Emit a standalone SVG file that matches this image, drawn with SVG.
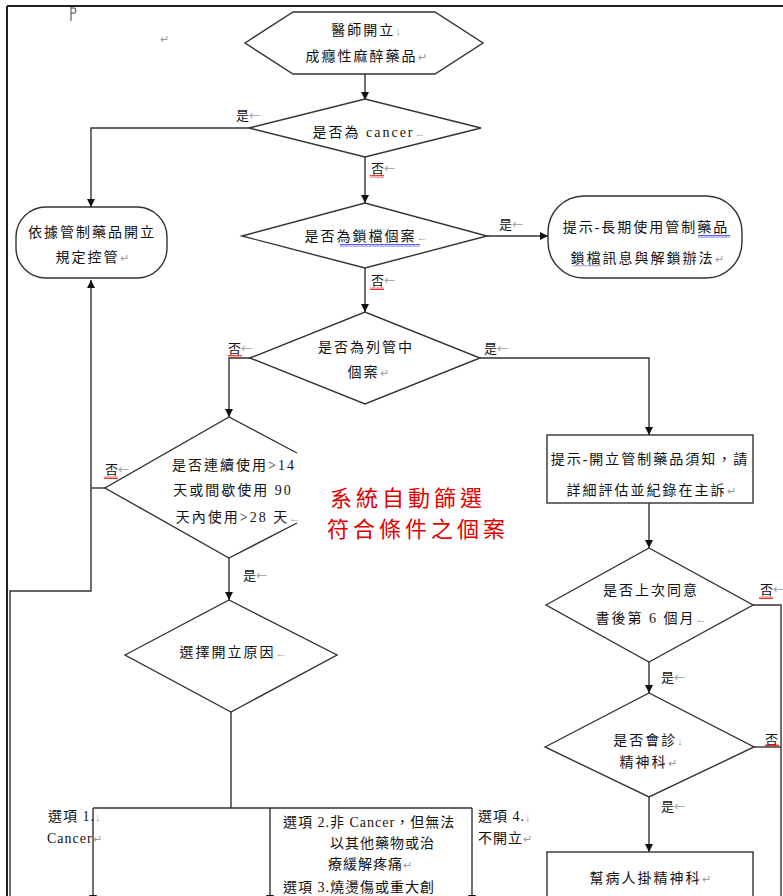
<svg xmlns="http://www.w3.org/2000/svg" width="783" height="896" viewBox="0 0 783 896">
<style>
.sh{fill:#fff;stroke:#333;stroke-width:1.4}
.ln{fill:none;stroke:#333;stroke-width:1.4}
.t{font-family:"Liberation Serif","Noto Sans CJK TC",serif;font-size:14px;fill:#111;letter-spacing:2px}
.c{text-anchor:middle}
.o{font-family:"Liberation Serif","Noto Sans CJK TC",serif;font-size:14px;fill:#111;letter-spacing:1px}
.lb{font-family:"Noto Sans CJK TC",sans-serif;font-size:13px;fill:#111}
.pm{fill:#999;font-size:11px;letter-spacing:0}
.red{font-family:"Noto Sans CJK TC",sans-serif;font-size:22px;fill:#e00000;letter-spacing:4px}
</style>
<defs>
<marker id="ah" viewBox="0 0 10 10" refX="10" refY="5" markerWidth="8" markerHeight="8" markerUnits="userSpaceOnUse" orient="auto">
<path d="M0,0 L10,5 L0,10 z" fill="#111"/>
</marker>
<pattern id="wr" width="4" height="3" patternUnits="userSpaceOnUse"><path d="M0,2.5 L1,0.5 L2,2.5 L3,0.5 L4,2.5" fill="none" stroke="#e00" stroke-width="0.8"/></pattern>
<pattern id="wb" width="4" height="3" patternUnits="userSpaceOnUse"><path d="M0,2.5 L1,0.5 L2,2.5 L3,0.5 L4,2.5" fill="none" stroke="#33d" stroke-width="0.8"/></pattern>
</defs>
<rect width="783" height="896" fill="#fff"/>
<g id="frame">
<path d="M7,6 H783 M7,6 V896" fill="none" stroke="#222" stroke-width="2"/>
<path d="M71,7 V21 M71,8 H75 L76,11 L75,13 H71" fill="none" stroke="#444" stroke-width="1"/>
<text x="160" y="43" class="t pm">↵</text>
</g>
<g id="connectors">
<path class="ln" d="M365,74 V100" marker-end="url(#ah)"/>
<path class="ln" d="M249,128 H91 V207" marker-end="url(#ah)"/>
<path class="ln" d="M365,157 V203" marker-end="url(#ah)"/>
<path class="ln" d="M487,236 H548" marker-end="url(#ah)"/>
<path class="ln" d="M365,268 V312" marker-end="url(#ah)"/>
<path class="ln" d="M250,358 H229 V417" marker-end="url(#ah)"/>
<path class="ln" d="M480,358 H649 V435" marker-end="url(#ah)"/>
<path class="ln" d="M105,488 H91"/>
<path class="ln" d="M10,896 V591 H91 V280" marker-end="url(#ah)"/>
<path class="ln" d="M229,558 V600" marker-end="url(#ah)"/>
<path class="ln" d="M231,712 V808 M93,808 H472"/>
<path class="ln" d="M93,808 V903" marker-end="url(#ah)"/>
<path class="ln" d="M270,808 V903" marker-end="url(#ah)"/>
<path class="ln" d="M472,808 V903" marker-end="url(#ah)"/>
<path class="ln" d="M649,503 V548" marker-end="url(#ah)"/>
<path class="ln" d="M753,605 H781 V896"/>
<path class="ln" d="M649,662 V693" marker-end="url(#ah)"/>
<path class="ln" d="M754,747 H781"/>
<path class="ln" d="M649,797 V852" marker-end="url(#ah)"/>
<g id="labels">
<text x="236" y="120" class="lb">是<tspan class="pm">←</tspan></text>
<text x="371" y="173" class="lb">否<tspan class="pm">←</tspan></text>
<rect x="370" y="175" width="14" height="3" fill="url(#wr)"/>
<text x="499" y="229" class="lb">是<tspan class="pm">←</tspan></text>
<text x="371" y="285" class="lb">否<tspan class="pm">←</tspan></text>
<rect x="370" y="287" width="14" height="3" fill="url(#wr)"/>
<text x="228" y="353" class="lb">否<tspan class="pm">←</tspan></text>
<rect x="228" y="355" width="14" height="3" fill="url(#wr)"/>
<text x="484" y="353" class="lb">是<tspan class="pm">←</tspan></text>
<text x="105" y="474" class="lb">否<tspan class="pm">←</tspan></text>
<rect x="104" y="476" width="14" height="3" fill="url(#wr)"/>
<text x="243" y="580" class="lb">是<tspan class="pm">←</tspan></text>
<text x="760" y="594" class="lb">否<tspan class="pm">←</tspan></text>
<rect x="759" y="596" width="14" height="3" fill="url(#wr)"/>
<text x="661" y="682" class="lb">是<tspan class="pm">←</tspan></text>
<text x="765" y="744" class="lb">否</text>
<rect x="765" y="744" width="14" height="3" fill="url(#wr)"/>
<text x="661" y="811" class="lb">是<tspan class="pm">←</tspan></text>
</g>
</g>
<g id="n-start">
<polygon class="sh" points="245,43 293,12 435,12 483,43 435,74 293,74"/>
<text x="366" y="35" class="t c">醫師開立<tspan class="pm">↓</tspan></text>
<text x="366" y="61" class="t c">成癮性麻醉藥品<tspan class="pm">↵</tspan></text>
</g>
<g id="n-cancer">
<polygon class="sh" points="249,128 365,99 481,128 365,157"/>
<text x="369" y="137" class="t c">是否為 cancer<tspan class="pm">←</tspan></text>
</g>
<g id="n-rule">
<rect class="sh" x="16" y="207" width="151" height="71" rx="30" ry="30"/>
<text x="92" y="237" class="t c">依據管制藥品開立</text>
<text x="92" y="262" class="t c">規定控管<tspan class="pm">↵</tspan></text>
</g>
<g id="n-lock">
<polygon class="sh" points="242,236 365,203 487,236 365,268"/>
<text x="366" y="241" class="t c">是否為鎖檔個案<tspan class="pm">←</tspan></text>
<rect x="340" y="244" width="80" height="3" fill="url(#wb)"/>
</g>
<g id="n-lockmsg">
<rect class="sh" x="548" y="196" width="194" height="82" rx="36" ry="36"/>
<text x="646" y="232" class="t c">提示-長期使用管制藥品</text>
<rect x="698" y="235" width="32" height="3" fill="url(#wb)"/>
<text x="647" y="263" class="t c">鎖檔訊息與解鎖辦法<tspan class="pm">↵</tspan></text>
<rect x="573" y="265" width="28" height="2" fill="url(#wb)" opacity="0.5"/>
</g>
<g id="n-listed">
<polygon class="sh" points="250,358 365,312 480,358 365,404"/>
<text x="366" y="352" class="t c">是否為列管中</text>
<text x="368" y="377" class="t c">個案<tspan class="pm">↵</tspan></text>
</g>
<g id="n-days">
<polyline class="ln" points="297,453 229,417 105,488 229,558 297,523"/>
<text x="234" y="470" class="t c">是否連續使用&gt;14</text>
<text x="233" y="495" class="t c">天或間歇使用 90</text>
<text x="238" y="522" class="t c">天內使用&gt;28 天<tspan class="pm">←</tspan></text>
</g>
<g id="n-note">
<text x="330" y="506" class="red">系統自動篩選</text>
<text x="327" y="537" class="red">符合條件之個案</text>
</g>
<g id="n-reason">
<polygon class="sh" points="125,655 229,600 337,655 231,712"/>
<text x="233" y="657" class="t c">選擇開立原因<tspan class="pm">←</tspan></text>
</g>
<g id="n-options">
<text x="48" y="821" class="o">選項 1.<tspan class="pm">↓</tspan></text>
<text x="47" y="843" class="o">Cancer<tspan class="pm">↵</tspan></text>
<text x="283" y="827" class="o">選項 2.非 Cancer，但無法</text>
<text x="330" y="848" class="o">以其他藥物或治</text>
<text x="328" y="869" class="o">療緩解疼痛<tspan class="pm">↵</tspan></text>
<text x="283" y="892" class="o">選項 3.燒燙傷或重大創</text>
<text x="478" y="821" class="o">選項 4.<tspan class="pm">↓</tspan></text>
<text x="478" y="843" class="o">不開立<tspan class="pm">↵</tspan></text>
</g>
<g id="n-notice">
<rect class="sh" x="547" y="435" width="206" height="68"/>
<text x="650" y="464" class="t c">提示-開立管制藥品須知，請</text>
<text x="651" y="495" class="t c">詳細評估並紀錄在主訴<tspan class="pm">↵</tspan></text>
</g>
<g id="n-six">
<polygon class="sh" points="546,605 649,548 753,605 649,662"/>
<text x="651" y="595" class="t c">是否上次同意</text>
<text x="651" y="623" class="t c">書後第 6 個月<tspan class="pm">←</tspan></text>
</g>
<g id="n-consult">
<polygon class="sh" points="545,747 649,693 754,747 649,797"/>
<text x="648" y="745" class="t c">是否會診<tspan class="pm">↓</tspan></text>
<text x="648" y="767" class="t c">精神科<tspan class="pm">↵</tspan></text>
</g>
<g id="n-psych">
<rect class="sh" x="547" y="852" width="206" height="60"/>
<text x="650" y="883" class="t c">幫病人掛精神科<tspan class="pm">↵</tspan></text>
</g>
</svg>
